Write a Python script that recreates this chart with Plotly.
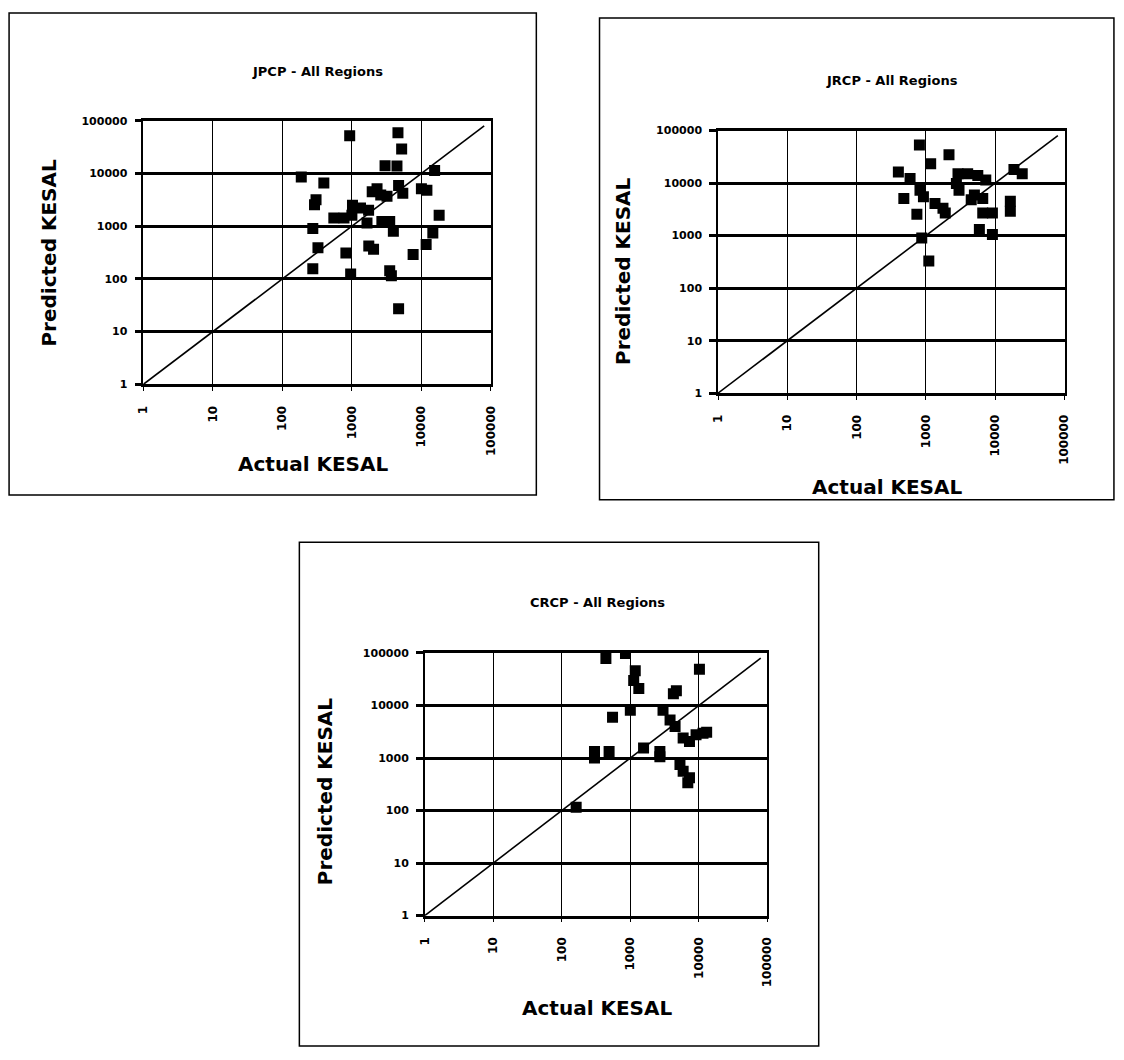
import plotly.graph_objects as go

# ---------------- data ----------------
panel_titles = ["JPCP - All Regions", "JRCP - All Regions", "CRCP - All Regions"]
x_title = "Actual KESAL"
y_title = "Predicted KESAL"
tick_vals = [1, 10, 100, 1000, 10000, 100000]
tick_text = ["1", "10", "100", "1000", "10000", "100000"]
diag_vals = [1, 80000]

jpcp_actual = [930, 4600, 5200, 3000, 4450, 15500, 187, 395, 305, 290, 2300, 2600, 3200,
               4700, 5400, 10000, 12000, 1330, 1740, 1020, 1960, 550, 770, 1000, 1650,
               2700, 3500, 3950, 18000, 274, 14600, 11700, 325, 820, 1750, 2050, 7600,
               274, 960, 3500, 3700, 4700]
jpcp_pred = [52000, 59000, 29000, 14000, 13800, 11400, 8500, 6600, 3150, 2540, 5100, 3900, 3700,
             5900, 4200, 5100, 4800, 2200, 2000, 2500, 4500, 1420, 1420, 1600, 1150,
             1230, 1230, 800, 1600, 900, 740, 450, 390, 310, 420, 365, 290,
             155, 123, 142, 115, 27]

jrcp_actual = [805, 2150, 1170, 400, 590, 18600, 24500, 2900, 4000, 5600, 7300, 2750, 3000,
               820, 920, 480, 1350, 1760, 5000, 6600, 4500, 740, 1900, 6600, 9100,
               16500, 16500, 5900, 9100, 870, 1100]
jrcp_pred = [53000, 34500, 23200, 16200, 12200, 18200, 15000, 15000, 15000, 14000, 11400, 9800, 7300,
             7300, 5500, 5100, 4100, 3300, 5900, 5100, 4800, 2550, 2700, 2700, 2700,
             4500, 2900, 1300, 1050, 900, 330]

crcp_actual = [440, 850, 10200, 1180, 1120, 1330, 4250, 4700, 550, 1000, 3000, 3800, 4500,
               11500, 9100, 7300, 5900, 300, 300, 490, 1560, 2700, 2700, 5300, 5900,
               7300, 6900, 162, 13000]
crcp_pred = [78000, 98000, 49000, 46000, 30000, 21000, 16700, 19000, 6000, 8100, 8100, 5300, 4000,
             2950, 2770, 2070, 2400, 1330, 1000, 1330, 1550, 1330, 1060, 750, 560,
             420, 340, 115, 3100]

# page has an 8px body margin: figure is sized to fit the window exactly
PAGE_MARGIN = 8
W, H = 1124 - 2 * PAGE_MARGIN, 1060 - 2 * PAGE_MARGIN
FONT = "DejaVu Sans"


def px(x):
    return (x - PAGE_MARGIN) / W


def py(y):
    return 1 - (y - PAGE_MARGIN) / H


# plot-area pixel boxes (left, right, top, bottom) in window coords, and frames
plot_boxes = [(138, 490, 116, 383), (720, 1071, 126, 392), (423, 770, 655, 921)]
frames = [(2, 536, 7, 495), (600, 1121, 12, 500), (296, 822, 543, 1053)]
title_pos = [(314, 66), (896, 75), (598, 604)]
xtitle_pos = [(310, 464), (891, 487), (597, 1015)]
ytitle_pos = [(42, 250), (624, 268), (322, 795)]

series = [(jpcp_actual, jpcp_pred), (jrcp_actual, jrcp_pred), (crcp_actual, crcp_pred)]

fig = go.Figure()
annotations = []
shapes = []

for i, ((xs, ys), (l, r, t, b)) in enumerate(zip(series, plot_boxes)):
    sfx = "" if i == 0 else str(i + 1)
    xa, ya = "x" + sfx, "y" + sfx
    fig.add_trace(go.Scatter(x=diag_vals, y=diag_vals, mode="lines",
                             line=dict(color="black", width=1.6),
                             xaxis=xa, yaxis=ya, showlegend=False, hoverinfo="skip"))
    fig.add_trace(go.Scatter(x=xs, y=ys, mode="markers",
                             marker=dict(symbol="square", size=11, color="black",
                                         line=dict(width=0)),
                             xaxis=xa, yaxis=ya, showlegend=False))
    xdom = [px(l), px(r)]
    ydom = [py(b), py(t)]
    fig.update_layout(**{
        "xaxis" + sfx: dict(
            type="log", range=[0, 5], domain=xdom, anchor=ya,
            tickvals=tick_vals, ticktext=tick_text, tickangle=-90,
            tickfont=dict(family=FONT, size=12, color="black", weight="bold"),
            ticklabelstandoff=10,
            showgrid=True, gridcolor="black", gridwidth=1,
            showline=True, linecolor="black", linewidth=2.5, mirror=True,
            ticks="outside", ticklen=4, tickwidth=1, tickcolor="black",
            zeroline=False, fixedrange=True),
        "yaxis" + sfx: dict(
            type="log", range=[0, 5], domain=ydom, anchor=xa,
            tickvals=tick_vals, ticktext=tick_text,
            tickfont=dict(family=FONT, size=11, color="black", weight="bold"),
            ticklabelstandoff=5,
            showgrid=True, gridcolor="black", gridwidth=2.5,
            showline=True, linecolor="black", linewidth=1.5, mirror=True,
            ticks="outside", ticklen=7, tickwidth=2.5, tickcolor="black",
            zeroline=False, fixedrange=True),
    })
    fl, fr, ft, fb = frames[i]
    shapes.append(dict(type="rect", xref="paper", yref="paper",
                       x0=px(fl), x1=px(fr), y0=py(fb), y1=py(ft),
                       line=dict(color="black", width=1.5)))
    tx, ty = title_pos[i]
    annotations.append(dict(text=panel_titles[i], xref="paper", yref="paper",
                            x=px(tx), y=py(ty), showarrow=False,
                            xanchor="center", yanchor="middle",
                            font=dict(family=FONT, size=13, color="black", weight="bold")))
    ax_, ay_ = xtitle_pos[i]
    annotations.append(dict(text=x_title, xref="paper", yref="paper",
                            x=px(ax_), y=py(ay_), showarrow=False,
                            xanchor="center", yanchor="middle",
                            font=dict(family=FONT, size=20, color="black", weight="bold")))
    bx, by = ytitle_pos[i]
    annotations.append(dict(text=y_title, xref="paper", yref="paper",
                            x=px(bx), y=py(by), showarrow=False, textangle=-90,
                            xanchor="center", yanchor="middle",
                            font=dict(family=FONT, size=20, color="black", weight="bold")))

fig.update_layout(width=W, height=H, margin=dict(l=0, r=0, t=0, b=0),
                  paper_bgcolor="white", plot_bgcolor="white",
                  annotations=annotations, shapes=shapes, showlegend=False)

fig.write_html("out.html")
